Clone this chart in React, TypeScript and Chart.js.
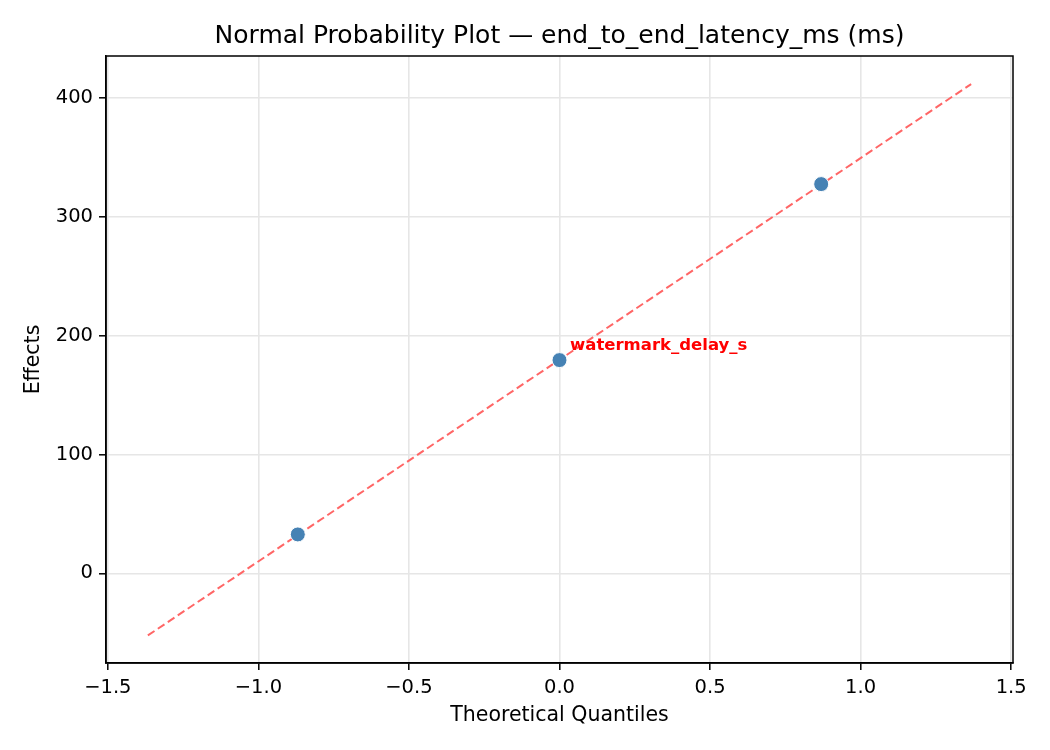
import { useEffect, useRef } from 'react';
import { Chart, registerables } from 'chart.js';

Chart.register(...registerables);

// theoretical normal quantiles and observed effects
const quantiles = [-0.869, 0, 0.869];
const effects = [32.8, 179.5, 327.6];
const factorLabels = ['', 'watermark_delay_s', ''];

// fitted reference line endpoints
const refX = [-1.367, 1.367];
const refY = [-52.2, 411.8];

const xTicks = [-1.5, -1.0, -0.5, 0.0, 0.5, 1.0, 1.5];
const xTickLabels = ['−1.5', '−1.0', '−0.5', '0.0', '0.5', '1.0', '1.5'];
const yTicks = [0, 100, 200, 300, 400];
const yTickLabels = ['0', '100', '200', '300', '400'];

const chartTitle = 'Normal Probability Plot — end_to_end_latency_ms (ms)';

const FONT = 'DejaVu Sans';

// title centred over the plot area, plus the top/right frame lines
const framePlugin = {
  id: 'frame',
  afterDraw(chart: Chart) {
    const { ctx, chartArea } = chart;
    ctx.save();
    ctx.strokeStyle = '#000';
    ctx.lineWidth = 1.5;
    ctx.strokeRect(chartArea.left, chartArea.top, chartArea.right - chartArea.left, chartArea.bottom - chartArea.top);
    ctx.fillStyle = '#000';
    ctx.font = `25px "${FONT}"`;
    ctx.textAlign = 'center';
    ctx.textBaseline = 'middle';
    ctx.fillText(chartTitle, (chartArea.left + chartArea.right) / 2, 36);
    ctx.restore();
  },
};

const annotatePlugin = {
  id: 'annotate',
  afterDatasetsDraw(chart: Chart) {
    const { ctx, scales } = chart;
    ctx.save();
    ctx.fillStyle = '#ff0000';
    ctx.font = `bold 16.5px "${FONT}"`;
    ctx.textAlign = 'left';
    ctx.textBaseline = 'alphabetic';
    factorLabels.forEach((label, i) => {
      if (!label) return;
      const px = scales.x.getPixelForValue(quantiles[i]);
      const py = scales.y.getPixelForValue(effects[i]);
      ctx.fillText(label, px + 10.5, py - 10.5);
    });
    ctx.restore();
  },
};

export default function App() {
  const canvasRef = useRef<HTMLCanvasElement>(null);
  const chartInstance = useRef<Chart | null>(null);

  useEffect(() => {
    if (!canvasRef.current) return;
    if (chartInstance.current) chartInstance.current.destroy();

    const tickFont = { family: FONT, size: 19.5 };
    const labelFont = { family: FONT, size: 20.5, lineHeight: 1.2 };

    chartInstance.current = new Chart(canvasRef.current, {
      type: 'scatter',
      data: {
        datasets: [
          {
            type: 'line',
            data: refX.map((x, i) => ({ x, y: refY[i] })),
            borderColor: '#ff6666',
            borderWidth: 2,
            borderDash: [8, 4],
            pointRadius: 0,
            fill: false,
            order: 2,
          },
          {
            data: quantiles.map((x, i) => ({ x, y: effects[i] })),
            backgroundColor: '#4682b4',
            borderColor: '#ffffff',
            borderWidth: 1,
            pointRadius: 7.5,
            order: 1,
          },
        ],
      },
      options: {
        responsive: false,
        devicePixelRatio: 1,
        animation: false,
        layout: { padding: { left: 0, right: 37, top: 56, bottom: 0 } },
        plugins: {
          legend: { display: false },
          tooltip: { enabled: false },
          title: { display: false },
        },
        scales: {
          x: {
            type: 'linear',
            min: -1.506,
            max: 1.506,
            afterBuildTicks: (scale) => {
              scale.ticks = xTicks.map((value) => ({ value }));
            },
            afterFit: (scale) => {
              scale.height = 87;
            },
            ticks: {
              color: '#000',
              font: tickFont,
              padding: 6,
              maxRotation: 0,
              autoSkip: false,
              callback: (_v, i) => xTickLabels[i],
            },
            grid: {
              color: '#e6e6e6',
              lineWidth: 1.6,
              tickColor: '#000',
              tickLength: 7,
              tickWidth: 1.5,
            },
            border: { color: '#000', width: 1.5 },
            title: {
              display: true,
              text: 'Theoretical Quantiles',
              color: '#000',
              font: labelFont,
              padding: { top: 0, bottom: 22.5 },
            },
          },
          y: {
            type: 'linear',
            min: -75.4,
            max: 435.4,
            afterBuildTicks: (scale) => {
              scale.ticks = yTicks.map((value) => ({ value }));
            },
            afterFit: (scale) => {
              scale.width = 106;
            },
            ticks: {
              color: '#000',
              font: tickFont,
              padding: 6,
              autoSkip: false,
              callback: (_v, i) => yTickLabels[i],
            },
            grid: {
              color: '#e6e6e6',
              lineWidth: 1.6,
              tickColor: '#000',
              tickLength: 7,
              tickWidth: 1.5,
            },
            border: { color: '#000', width: 1.5 },
            title: {
              display: true,
              text: 'Effects',
              color: '#000',
              font: labelFont,
              padding: { top: 21, bottom: 0 },
            },
          },
        },
      },
      plugins: [framePlugin, annotatePlugin],
    });

    return () => {
      if (chartInstance.current) {
        chartInstance.current.destroy();
        chartInstance.current = null;
      }
    };
  }, []);

  return (
    <div style={{ position: 'absolute', left: 0, top: 0, width: 1050, height: 750, background: '#fff' }}>
      <canvas ref={canvasRef} width={1050} height={750}></canvas>
    </div>
  );
}
